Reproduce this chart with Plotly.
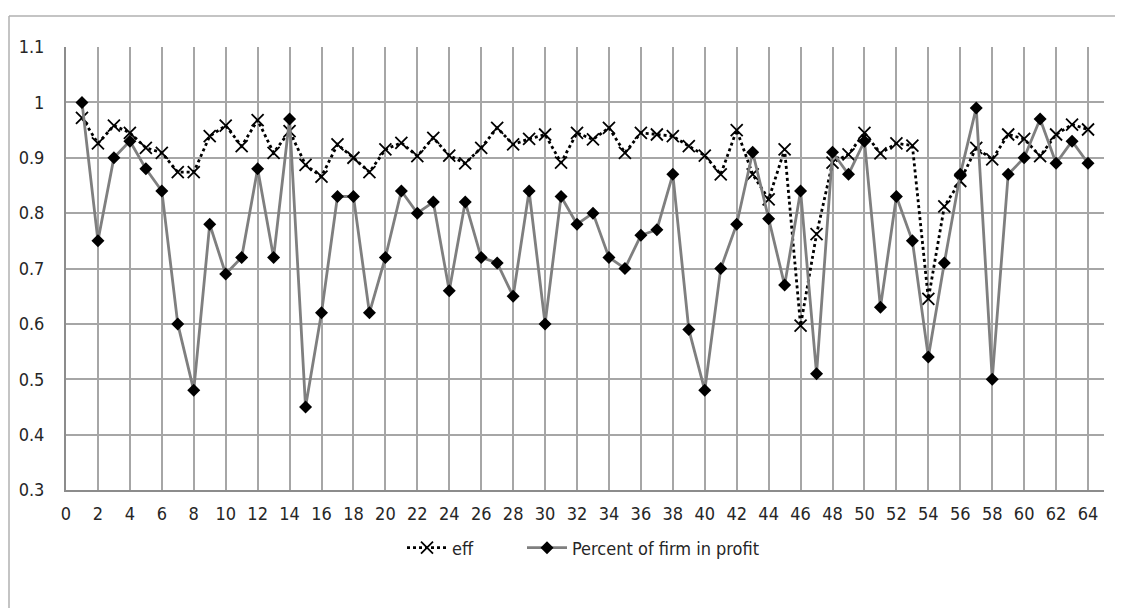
import plotly.graph_objects as go

firms = list(range(1, 65))
eff = [0.972, 0.926, 0.958, 0.945, 0.918, 0.909, 0.874, 0.874, 0.939, 0.958,
       0.921, 0.968, 0.909, 0.948, 0.887, 0.866, 0.924, 0.900, 0.874, 0.915,
       0.927, 0.903, 0.936, 0.904, 0.890, 0.918, 0.954, 0.924, 0.934, 0.942,
       0.891, 0.945, 0.933, 0.954, 0.909, 0.945, 0.942, 0.939, 0.921, 0.904,
       0.870, 0.950, 0.870, 0.825, 0.915, 0.597, 0.762, 0.891, 0.906, 0.945,
       0.908, 0.926, 0.922, 0.645, 0.812, 0.858, 0.918, 0.897, 0.942, 0.934,
       0.903, 0.942, 0.960, 0.951]
profit = [1.00, 0.75, 0.90, 0.93, 0.88, 0.84, 0.60, 0.48, 0.78, 0.69,
          0.72, 0.88, 0.72, 0.97, 0.45, 0.62, 0.83, 0.83, 0.62, 0.72,
          0.84, 0.80, 0.82, 0.66, 0.82, 0.72, 0.71, 0.65, 0.84, 0.60,
          0.83, 0.78, 0.80, 0.72, 0.70, 0.76, 0.77, 0.87, 0.59, 0.48,
          0.70, 0.78, 0.91, 0.79, 0.67, 0.84, 0.51, 0.91, 0.87, 0.93,
          0.63, 0.83, 0.75, 0.54, 0.71, 0.87, 0.99, 0.50, 0.87, 0.90,
          0.97, 0.89, 0.93, 0.89]
x_ticks = list(range(0, 65, 2))
y_ticks = [0.3, 0.4, 0.5, 0.6, 0.7, 0.8, 0.9, 1.0, 1.1]
y_labels = ["0.3", "0.4", "0.5", "0.6", "0.7", "0.8", "0.9", "1", "1.1"]

# page has an 8px body margin: figure coordinates = screen - 8
OFF = 8
W, H = 1123 - OFF, 608 - OFF
L, R, T, B = 66 - OFF, 1104 - OFF, 47 - OFF, 490 - OFF

fig = go.Figure()
fig.add_trace(go.Scatter(
    x=firms, y=eff, name="eff", mode="lines+markers", legend="legend",
    line=dict(color="black", width=2.8, dash="dot"),
    marker=dict(symbol="x-thin-open", size=12, line=dict(color="black", width=1.8)),
))
fig.add_trace(go.Scatter(
    x=firms, y=profit, name="Percent of firm in profit", mode="lines+markers",
    legend="legend2",
    line=dict(color="#7F7F7F", width=2.8),
    marker=dict(symbol="diamond", size=10, color="black"),
))

def px_x(p):
    return (p - OFF - L) / (R - L)

def px_y(p):
    return (B - (p - OFF)) / (B - T)

# outer chart border (left and top visible)
fig.add_shape(type="line", xref="paper", yref="paper",
              x0=px_x(9), x1=px_x(1130), y0=px_y(16), y1=px_y(16),
              line=dict(color="#B0B0B0", width=1.5))
fig.add_shape(type="line", xref="paper", yref="paper",
              x0=px_x(9), x1=px_x(9), y0=px_y(16), y1=px_y(615),
              line=dict(color="#B0B0B0", width=1.5))

font_family = "Liberation Sans Narrow, DejaVu Sans Condensed, sans-serif"
legend_common = dict(orientation="h", xanchor="left", yanchor="middle",
                     y=px_y(548), font=dict(size=18, color="#262626"),
                     itemwidth=40, bgcolor="rgba(0,0,0,0)")
fig.update_layout(
    width=W, height=H,
    margin=dict(l=L, r=W - R, t=T, b=H - B, autoexpand=False),
    paper_bgcolor="white", plot_bgcolor="white",
    font=dict(family=font_family, size=18, color="#262626"),
    showlegend=True,
    legend=dict(x=px_x(402), **legend_common),
    legend2=dict(x=px_x(522), **legend_common),
    xaxis=dict(range=[0, 65], tickvals=x_ticks, ticktext=[str(v) for v in x_ticks],
               showgrid=True, gridcolor="#A6A6A6", gridwidth=1.5,
               showline=True, linecolor="#8C8C8C", linewidth=2,
               ticks="", ticklabelstandoff=6, zeroline=False, automargin=False),
    yaxis=dict(range=[0.3, 1.1], tickvals=y_ticks, ticktext=y_labels,
               showgrid=True, gridcolor="#A6A6A6", gridwidth=1.5,
               showline=True, linecolor="#8C8C8C", linewidth=2,
               ticks="", ticklabelstandoff=16, zeroline=False, automargin=False),
)

fig.write_html("out.html")
